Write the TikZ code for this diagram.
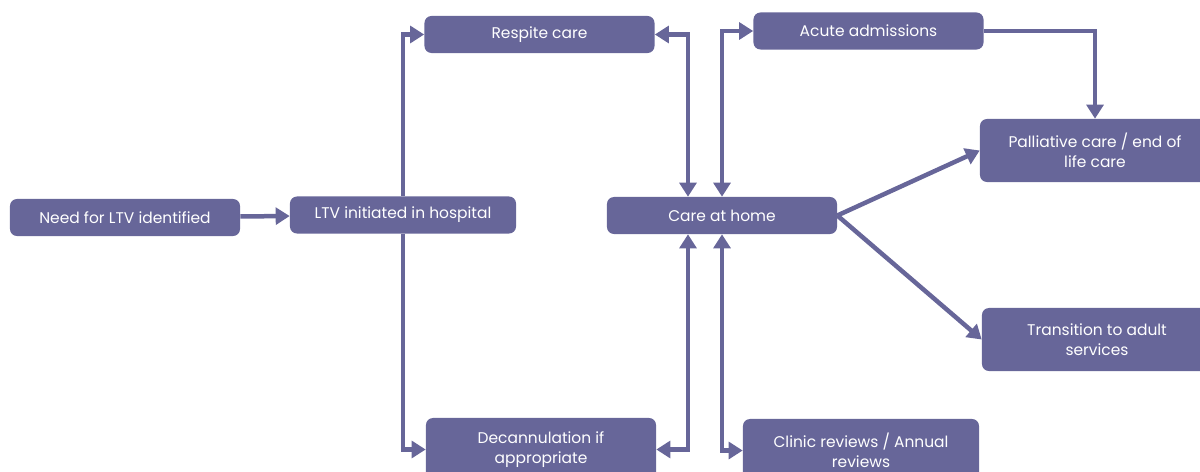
\documentclass[tikz,border=0pt]{standalone}
\usepackage{fontspec}
\setmainfont{Poppins}
\usepackage{xcolor}
\usepackage{tikz}
\usetikzlibrary{arrows.meta,positioning}

\definecolor{ltvpurple}{HTML}{676699}

\begin{document}
\begin{tikzpicture}[x=0.025cm, y=-0.025cm,
  box/.style={fill=ltvpurple, rounded corners=5pt, text=white, minimum width=5.75cm,
    minimum height=0.925cm, align=center, inner sep=2pt, font=\fontsize{11}{14.5}\selectfont},
  tall/.style={box, minimum height=1.575cm},
  arrow/.style={-{Triangle[length=3.5mm,width=4.2mm]}, line width=3.2pt, draw=ltvpurple},
  both/.style={arrow, {Triangle[length=3.5mm,width=4.2mm]}-{Triangle[length=3.5mm,width=4.2mm]}}]
  \useasboundingbox (0,0) rectangle (1200,472);
  % boxes
  \node[box] (need) at (125,217.5) {Need for LTV identified};
  \node[box, minimum width=5.65cm] (ltv) at (403,215) {LTV initiated in hospital};
  \node[box] (respite) at (539.5,34.5) {Respite care};
  \node[box] (home) at (722,215.5) {Care at home};
  \node[box] (acute) at (868.5,31) {Acute admissions};
  \node[tall] (palliative) at (1095,150.5) {Palliative care / end of\\life care};
  \node[tall] (transition) at (1097,339.5) {Transition to adult\\services};
  \node[tall] (decann) at (541,449.5) {Decannulation if\\appropriate};
  \node[tall, minimum width=5.9cm] (clinic) at (861,450.5) {Clinic reviews / Annual\\reviews};
  % connectors
  \draw[arrow] (need) -- (ltv);
  \draw[arrow] (ltv.north) |- (respite.west);
  \draw[arrow] (ltv.south) |- (decann.west);
  \draw[both] (respite.east) -| ([xshift=-0.85cm]home.north);
  \draw[both] (home.north) |- (acute.west);
  \draw[both] (decann.east) -| ([xshift=-0.85cm]home.south);
  \draw[both] (home.south) |- (clinic.west);
  \draw[arrow] (acute.east) -| (palliative.north);
  \draw[arrow] (home.east) -- (palliative.west);
  \draw[arrow] (home.east) -- (transition.west);
\end{tikzpicture}
\end{document}
